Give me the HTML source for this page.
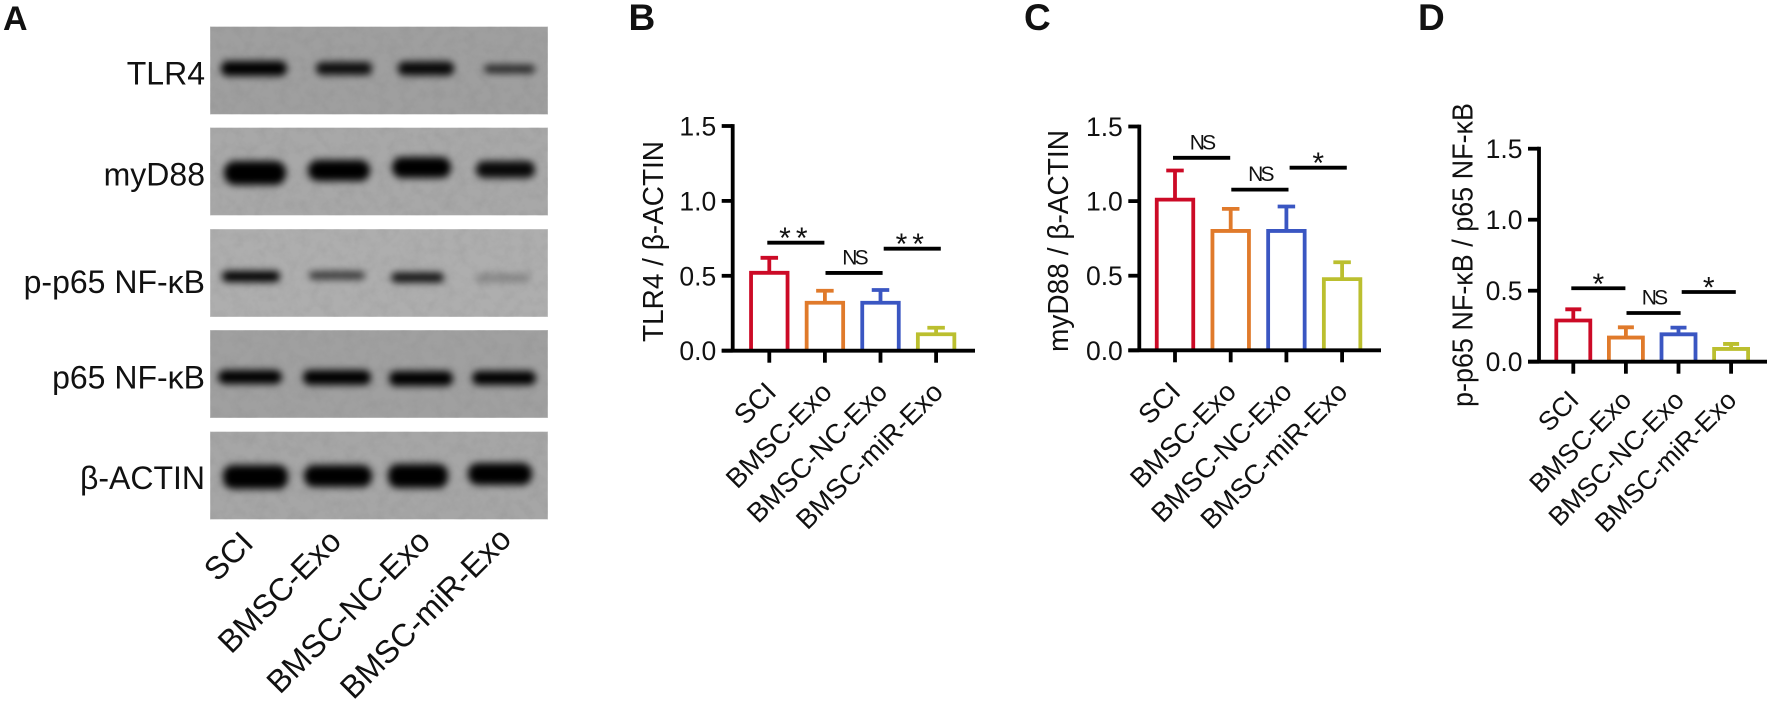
<!DOCTYPE html>
<html lang="en">
<head>
<meta charset="utf-8">
<title>Western blot and densitometry panels</title>
<style>
html,body{margin:0;padding:0;background:#fff;width:1772px;height:706px;overflow:hidden}
svg{display:block}
text{font-family:"Liberation Sans",Arial,sans-serif;fill:#111}
</style>
</head>
<body>
<svg id="fig" xmlns="http://www.w3.org/2000/svg" width="1772" height="706" viewBox="0 0 1772 706">
<defs>
<filter id="bandBlur" x="-30%" y="-200%" width="160%" height="500%"><feGaussianBlur stdDeviation="3.6"/></filter>
<filter id="grain" x="0" y="0" width="100%" height="100%">
<feTurbulence type="fractalNoise" baseFrequency="0.09" numOctaves="3" seed="7"/>
<feColorMatrix type="matrix" values="0 0 0 0 0.25  0 0 0 0 0.25  0 0 0 0 0.25  1.6 0 0 0 -0.62"/>
</filter>
<clipPath id="c1"><rect x="210" y="26.5" width="338" height="88"/></clipPath>
<clipPath id="c2"><rect x="210" y="127.5" width="338" height="88"/></clipPath>
<clipPath id="c3"><rect x="210" y="229" width="338" height="88"/></clipPath>
<clipPath id="c4"><rect x="210" y="330" width="338" height="88"/></clipPath>
<clipPath id="c5"><rect x="210" y="431.5" width="338" height="88"/></clipPath>
</defs>

<g>
<text x="3" y="30" font-size="34" font-weight="bold">A</text>

<g clip-path="url(#c1)">
<rect x="210" y="26.5" width="338" height="88" fill="#9f9f9f" stroke="#c8c8c8"/>
<rect x="210" y="26.5" width="338" height="88" filter="url(#grain)" opacity=".35"/>
<g filter="url(#bandBlur)" fill="#000">
<rect x="221" y="61" width="66" height="15" rx="7"/>
<rect x="316" y="62" width="56" height="13" rx="6" opacity=".92"/>
<rect x="398" y="61.5" width="56" height="14" rx="6" opacity=".95"/>
<rect x="484" y="65" width="51" height="8" rx="4" opacity=".8"/>
</g></g>

<g clip-path="url(#c2)">
<rect x="210" y="127.5" width="338" height="88" fill="#a8a8a8" stroke="#cccccc"/>
<rect x="210" y="127.5" width="338" height="88" filter="url(#grain)" opacity=".3"/>
<g filter="url(#bandBlur)" fill="#000">
<rect x="224" y="161" width="62" height="24" rx="11"/>
<rect x="308" y="160" width="62" height="21" rx="10"/>
<rect x="392" y="157" width="59" height="21" rx="10"/>
<rect x="476" y="161" width="59" height="17" rx="8" opacity=".95"/>
</g></g>

<g clip-path="url(#c3)">
<rect x="210" y="229" width="338" height="88" fill="#aeaeae" stroke="#d0d0d0"/>
<rect x="210" y="229" width="338" height="88" filter="url(#grain)" opacity=".25"/>
<g filter="url(#bandBlur)" fill="#000">
<rect x="222" y="271" width="58" height="11" rx="5"/>
<rect x="309" y="271.5" width="56" height="8" rx="4" opacity=".7"/>
<rect x="391" y="272.5" width="53" height="10" rx="5" opacity=".9"/>
<rect x="476" y="274" width="54" height="8" rx="4" opacity=".25"/>
</g></g>

<g clip-path="url(#c4)">
<rect x="210" y="330" width="338" height="88" fill="#a0a0a0" stroke="#c8c8c8"/>
<rect x="210" y="330" width="338" height="88" filter="url(#grain)" opacity=".3"/>
<g filter="url(#bandBlur)" fill="#000">
<rect x="218" y="370" width="64" height="14" rx="7"/>
<rect x="303" y="370" width="68" height="15" rx="7"/>
<rect x="389" y="371" width="64" height="15" rx="7"/>
<rect x="472" y="371" width="64" height="14" rx="7"/>
</g></g>

<g clip-path="url(#c5)">
<rect x="210" y="431.5" width="338" height="88" fill="#a6a6a6" stroke="#cccccc"/>
<rect x="210" y="431.5" width="338" height="88" filter="url(#grain)" opacity=".3"/>
<g filter="url(#bandBlur)" fill="#000">
<rect x="223" y="465" width="65" height="24" rx="10"/>
<rect x="304" y="465" width="68" height="22" rx="10"/>
<rect x="388" y="464" width="60" height="24" rx="10"/>
<rect x="468" y="463" width="64" height="22" rx="10"/>
</g></g>

<g font-size="32" text-anchor="end">
<text x="205" y="84.5">TLR4</text>
<text x="205" y="185.5">myD88</text>
<text x="205" y="293">p-p65 NF-κB</text>
<text x="205" y="388.5">p65 NF-κB</text>
<text x="205" y="489">β-ACTIN</text>
</g>
<g font-size="32" text-anchor="end">
<text transform="translate(255 545) rotate(-45)">SCI</text>
<text transform="translate(343 543) rotate(-45)">BMSC-Exo</text>
<text transform="translate(432 543) rotate(-45)">BMSC-NC-Exo</text>
<text transform="translate(513 541) rotate(-45)">BMSC-miR-Exo</text>
</g>
</g>

<text x="628.5" y="30" font-size="37" font-weight="bold">B</text>
<text x="1024" y="30" font-size="37" font-weight="bold">C</text>
<text x="1418" y="30" font-size="37" font-weight="bold">D</text>
</svg>

<script>
// Shared categories, colours and axis ticks
const categories = ['SCI', 'BMSC-Exo', 'BMSC-NC-Exo', 'BMSC-miR-Exo'];
const barColors = ['#cc0a26', '#e07a2b', '#3a56c2', '#bbbf2f'];
const tickValues = [0, 0.5, 1, 1.5];
const tickLabels = ['0.0', '0.5', '1.0', '1.5'];

// Panel B: TLR4 / beta-ACTIN
const tlr4Means = [0.52, 0.32, 0.32, 0.11];
const tlr4Upper = [0.62, 0.40, 0.405, 0.153];
const tlr4SigLabels = ['**', 'NS', '**'];
const tlr4SigLevels = [0.721, 0.519, 0.681];

// Panel C: myD88 / beta-ACTIN
const myd88Means = [1.01, 0.80, 0.80, 0.477];
const myd88Upper = [1.205, 0.948, 0.964, 0.59];
const myd88SigLabels = ['NS', 'NS', '*'];
const myd88SigLevels = [1.29, 1.077, 1.224];

// Panel D: p-p65 NF-kB / p65 NF-kB
const pp65Means = [0.29, 0.17, 0.193, 0.09];
const pp65Upper = [0.369, 0.242, 0.24, 0.125];
const pp65SigLabels = ['*', 'NS', '*'];
const pp65SigLevels = [0.517, 0.343, 0.491];

const NS = 'http://www.w3.org/2000/svg';
const root = document.getElementById('fig');

function mk(parent, tag, attrs, txt) {
  const n = document.createElementNS(NS, tag);
  for (const k in attrs) n.setAttribute(k, attrs[k]);
  if (txt !== undefined) n.textContent = txt;
  parent.appendChild(n);
  return n;
}

function drawChart(cfg, means, upper, sigLabels, sigLevels) {
  const x = function (i) { return cfg.x0 + i * cfg.step; };
  const y = function (v) { return cfg.y0 - v * cfg.pxPerUnit; };

  const g = mk(root, 'g', {});
  
  

  // bars and error bars
  categories.forEach(function (cat, i) {
    const slug = cat.toLowerCase();
    const half = cfg.barW / 2;
    const col = barColors[i];
    const bar = mk(g, 'path', {
      d: 'M' + (x(i) - half) + ' ' + cfg.y0 + 'V' + y(means[i]) + 'H' + (x(i) + half) + 'V' + cfg.y0,
      fill: '#fff', stroke: col, 'stroke-width': 3.8
    });
    
    
    const err = mk(g, 'path', {
      d: 'M' + x(i) + ' ' + y(means[i]) + 'V' + y(upper[i]) + 'M' + (x(i) - cfg.capW / 2) + ' ' + y(upper[i]) + 'H' + (x(i) + cfg.capW / 2),
      fill: 'none', stroke: col, 'stroke-width': 3.8
    });
    
    
    const tick = mk(g, 'line', {
      x1: x(i), x2: x(i), y1: cfg.y0, y2: cfg.y0 + 12, stroke: '#000', 'stroke-width': 3.8
    });
    
    
    const lab = mk(g, 'text', {
      transform: 'translate(' + (x(i) + cfg.labDx) + ' ' + (cfg.y0 + cfg.labDy) + ') rotate(-45)',
      'text-anchor': 'end', 'font-size': cfg.labSize
    }, cat);
    
    
  });

  // axes
  const yAxis = mk(g, 'line', {
    x1: cfg.axisX, x2: cfg.axisX, y1: y(1.5) - 1.9, y2: cfg.y0, stroke: '#000', 'stroke-width': 3.8
  });
  
  
  const xAxis = mk(g, 'line', {
    x1: cfg.axisX - 11, x2: cfg.axisEnd, y1: cfg.y0, y2: cfg.y0, stroke: '#000', 'stroke-width': 3.8
  });
  
  

  tickValues.forEach(function (v, i) {
    const t = mk(g, 'line', {
      x1: cfg.axisX - 11, x2: cfg.axisX, y1: y(v), y2: y(v), stroke: '#000', 'stroke-width': 3.8
    });
    
    
    const l = mk(g, 'text', {
      x: cfg.axisX - 16.5, y: y(v) + 9.5, 'text-anchor': 'end', 'font-size': 26.5
    }, tickLabels[i]);
    
    
  });

  // y title
  const title = mk(g, 'text', {
    transform: 'translate(' + cfg.titleX + ' ' + cfg.titleBottom + ') rotate(-90)',
    'font-size': 29, textLength: cfg.titleLen, lengthAdjust: 'spacingAndGlyphs'
  }, cfg.title);
  
  

  // significance brackets
  sigLabels.forEach(function (s, i) {
    const sx = x(i) - 2 + i * 2.6;
    const sw = cfg.step + 1.5;
    const ly = y(sigLevels[i]);
    const line = mk(g, 'line', {
      x1: sx, x2: sx + sw, y1: ly, y2: ly, stroke: '#000', 'stroke-width': 3.8
    });
    
    
    const isNs = s === 'NS';
    const attrs = isNs
      ? { x: sx + sw / 2, y: ly - 8.5, 'text-anchor': 'middle', 'font-size': 21, 'letter-spacing': -2.8 }
      : { x: sx + sw / 2, y: ly + 5.5, 'text-anchor': 'middle', 'font-size': 30, 'letter-spacing': s.length > 1 ? 5 : 0 };
    const st = mk(g, 'text', attrs, s);
    
    
  });
}

drawChart({
  id: 'b', title: 'TLR4 / β-ACTIN', titleX: 663, titleBottom: 342, titleLen: 201,
  axisX: 732.7, axisEnd: 975, x0: 769.3, step: 55.6, y0: 350.7, pxPerUnit: 149.8,
  barW: 36.5, capW: 17.5, labDx: 8.5, labDy: 43, labSize: 27.5
}, tlr4Means, tlr4Upper, tlr4SigLabels, tlr4SigLevels);

drawChart({
  id: 'c', title: 'myD88 / β-ACTIN', titleX: 1068, titleBottom: 352, titleLen: 222,
  axisX: 1139.3, axisEnd: 1381, x0: 1175, step: 55.7, y0: 350.3, pxPerUnit: 149.2,
  barW: 36.5, capW: 17.5, labDx: 7, labDy: 43, labSize: 27.5
}, myd88Means, myd88Upper, myd88SigLabels, myd88SigLevels);

drawChart({
  id: 'd', title: 'p-p65 NF-κB / p65 NF-κB', titleX: 1472.5, titleBottom: 407, titleLen: 304,
  axisX: 1539, axisEnd: 1767, x0: 1573.3, step: 52.6, y0: 361.7, pxPerUnit: 142,
  barW: 34, capW: 16, labDx: 7, labDy: 40, labSize: 26.5
}, pp65Means, pp65Upper, pp65SigLabels, pp65SigLevels);
</script>
</body>
</html>
